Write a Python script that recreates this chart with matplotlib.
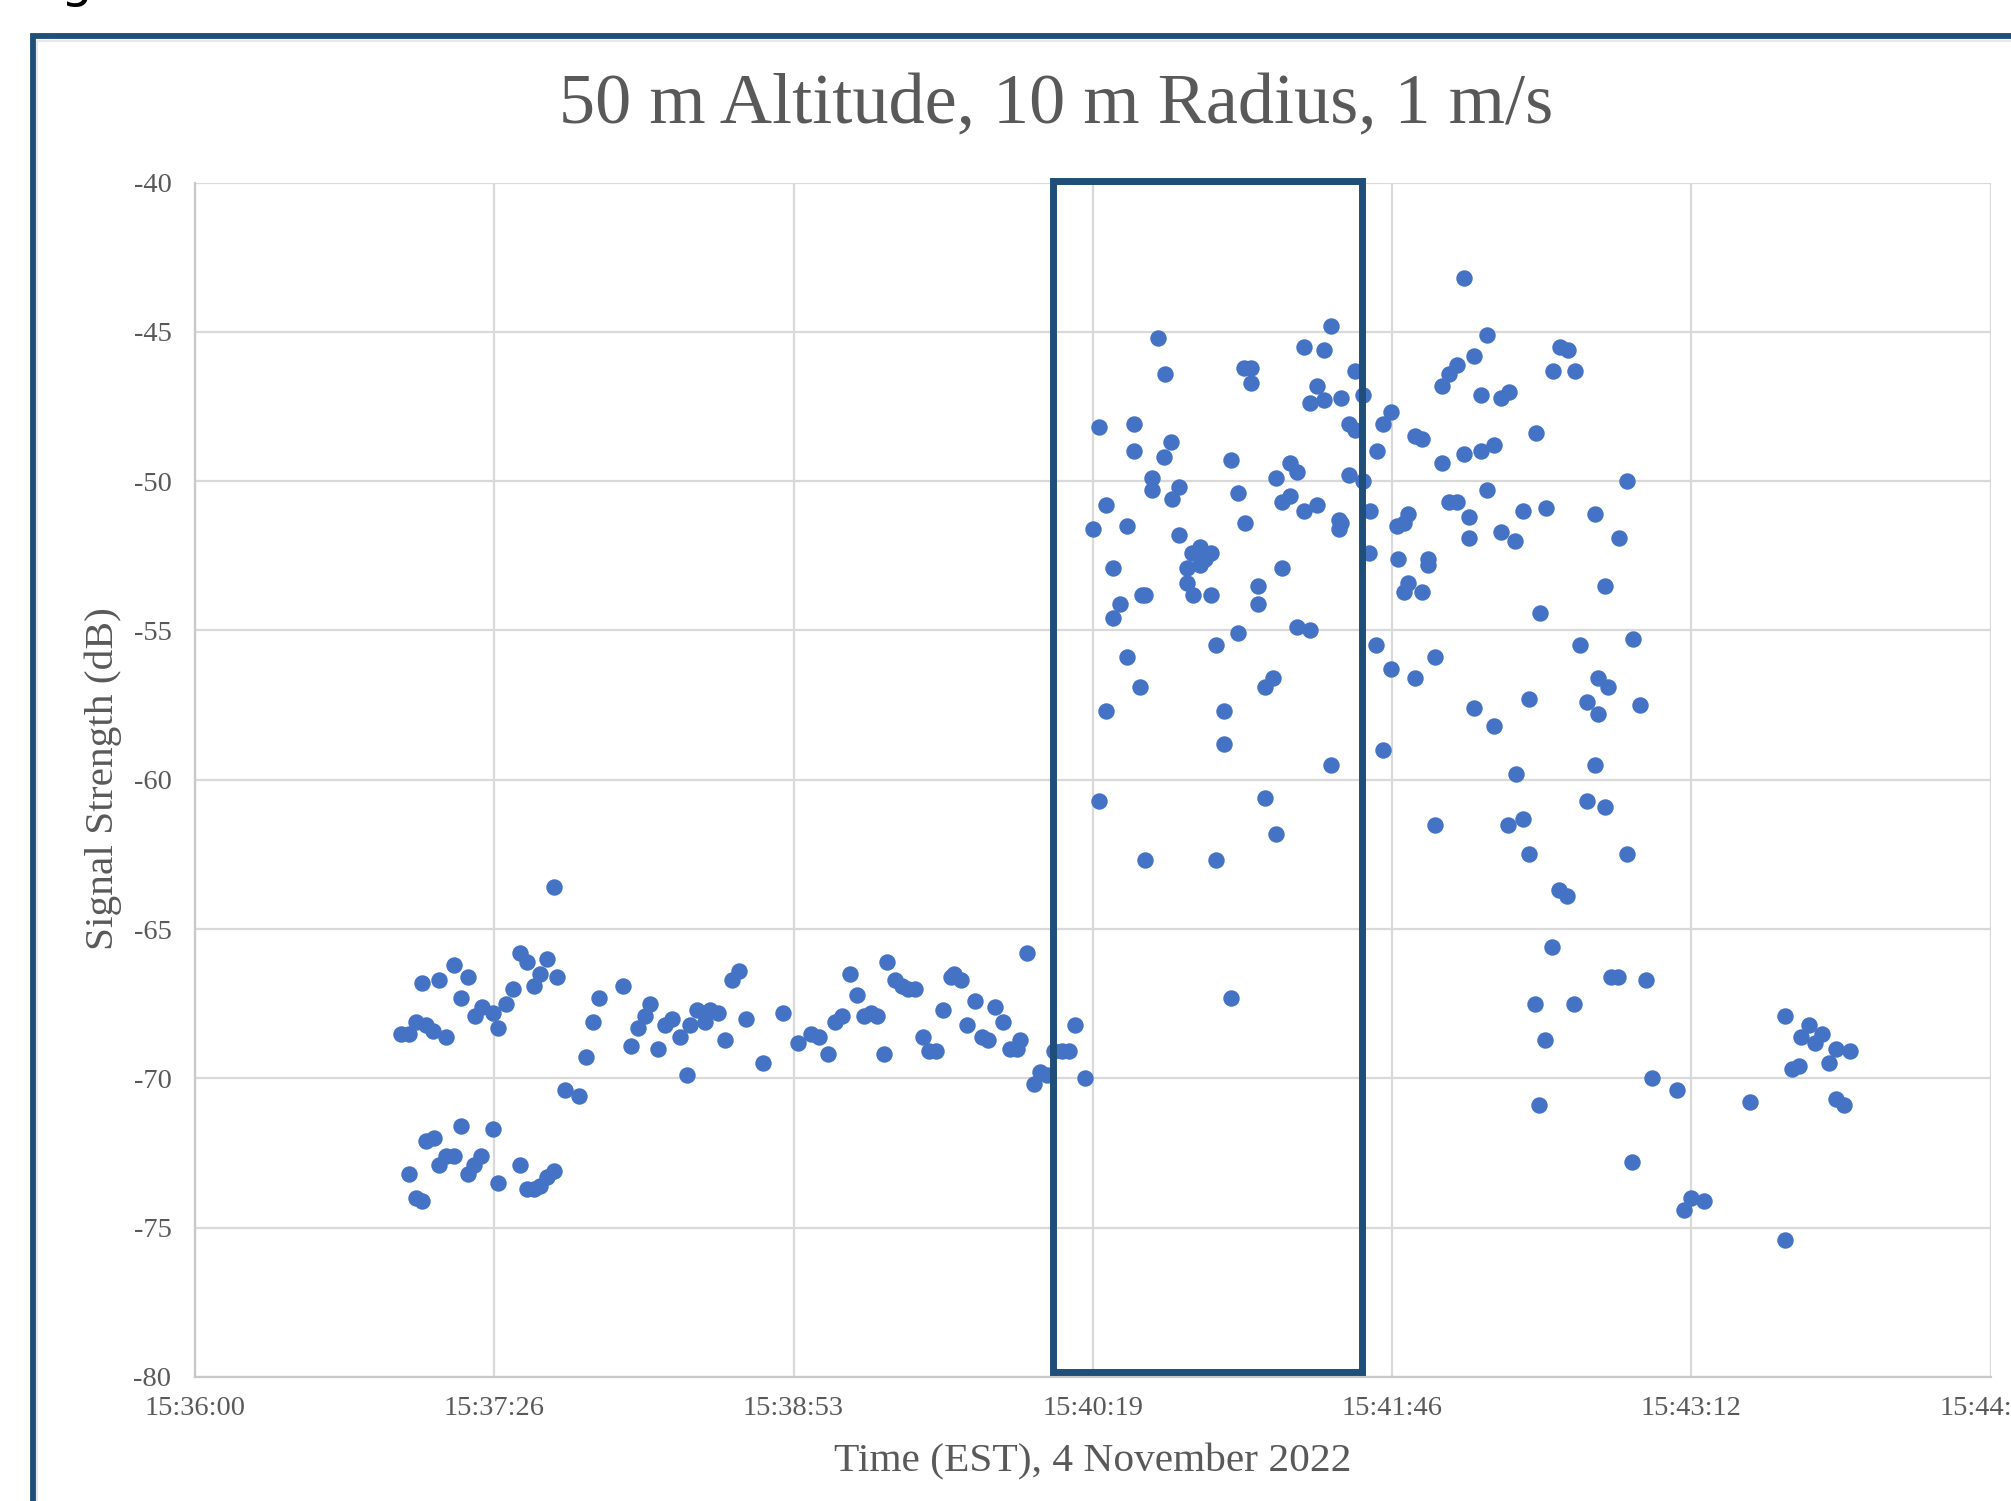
import numpy as np
import matplotlib.pyplot as plt
from matplotlib.patches import Rectangle
from matplotlib.lines import Line2D
from matplotlib.ticker import FuncFormatter, MultipleLocator

plt.rcParams['font.family'] = ['Liberation Serif', 'DejaVu Serif']
plt.rcParams['axes.unicode_minus'] = False

START_S = 15 * 3600 + 36 * 60  # 15:36:00, x axis starts here

# seconds after 15:36:00 / signal strength (dB)
# upper band before the circle
t_hover = [59.5, 61.8, 63.9, 65.4, 66.6, 68.7, 70.5, 72.4, 74.8, 76.7, 78.9, 80.8, 82.8, 86.0,
           87.6, 89.8, 91.7, 93.8, 95.8, 97.9, 99.6, 101.7, 103.7, 104.5, 106.7, 110.8, 112.9,
           115.0, 116.5, 123.7, 125.9, 127.9, 130.0, 131.5, 133.6, 135.7, 137.8, 139.9, 142.0,
           142.9, 145.0, 147.2, 148.6, 151.1, 152.9, 155.0, 157.0, 159.0, 164.0, 169.8, 174.0,
           177.8, 180.1, 182.8, 184.8, 186.9, 189.0, 191.1, 193.2, 195.1, 197.0, 198.9, 199.8,
           202.2, 204.1, 206.0, 208.0, 210.2, 211.9, 213.9, 216.1, 218.3, 219.1, 221.2, 222.9,
           225.3, 227.1, 228.9, 231.1, 233.3, 235.2, 237.2, 238.2, 240.2, 242.3, 244.1, 245.9,
           248.0, 250.2, 252.2, 254.2, 257.1]
db_hover = [-68.5, -68.5, -68.1, -66.8, -68.2, -68.4, -66.7, -68.6, -66.2, -67.3, -66.6, -67.9,
            -67.6, -67.8, -68.3, -67.5, -67.0, -65.8, -66.1, -66.9, -66.5, -66.0, -63.6, -66.6,
            -70.4, -70.6, -69.3, -68.1, -67.3, -66.9, -68.9, -68.3, -67.9, -67.5, -69.0, -68.2,
            -68.0, -68.6, -69.9, -68.2, -67.7, -68.1, -67.7, -67.8, -68.7, -66.7, -66.4, -68.0,
            -69.5, -67.8, -68.8, -68.5, -68.6, -69.2, -68.1, -67.9, -66.5, -67.2, -67.9, -67.8,
            -67.9, -69.2, -66.1, -66.7, -66.9, -67.0, -67.0, -68.6, -69.1, -69.1, -67.7, -66.6,
            -66.5, -66.7, -68.2, -67.4, -68.6, -68.7, -67.6, -68.1, -69.0, -69.0, -68.7, -65.8,
            -70.2, -69.8, -69.9, -69.1, -69.1, -69.1, -68.2, -70.0]

# lower band at the start
t_low = [61.7, 63.9, 65.4, 66.7, 68.9, 70.5, 72.4, 74.8, 76.7, 78.8, 80.6, 82.6, 85.9, 87.6,
         93.8, 95.8, 97.9, 99.6, 101.7, 103.7]
db_low = [-73.2, -74.0, -74.1, -72.1, -72.0, -72.9, -72.6, -72.6, -71.6, -73.2, -72.9, -72.6,
          -71.7, -73.5, -72.9, -73.7, -73.7, -73.6, -73.3, -73.1]

# circle at 50 m
t_circle = [259.2, 260.9, 260.9, 262.9, 262.9, 265.0, 265.0, 267.1, 269.2, 269.2, 271.2, 271.2,
            272.9, 273.3, 274.2, 274.3, 276.2, 276.2, 277.9, 279.9, 280.1, 281.9, 282.1, 284.1,
            284.1, 286.3, 286.3, 287.9, 288.2, 290.1, 290.1, 291.7, 293.3, 293.3, 294.8, 294.8,
            297.0, 297.0, 299.0, 299.0, 301.2, 301.2, 302.8, 303.2, 305.0, 305.0, 307.0, 307.0,
            309.0, 309.0, 311.1, 312.0, 312.0, 313.9, 313.9, 316.1, 316.1, 318.1, 318.2, 320.3,
            320.3, 321.8, 321.9, 324.0, 324.0, 326.1, 326.1, 328.0, 328.1, 330.3, 330.3, 330.9,
            330.9, 333.2, 333.2, 334.9, 335.0, 337.3, 337.3, 339.1, 339.3]
db_circle = [-51.6, -48.2, -60.7, -50.8, -57.7, -52.9, -54.6, -54.1, -51.5, -55.9, -48.1, -49.0,
             -56.9, -53.8, -62.7, -53.8, -49.9, -50.3, -45.2, -49.2, -46.4, -48.7, -50.6, -50.2,
             -51.8, -52.9, -53.4, -52.4, -53.8, -52.2, -52.8, -52.6, -52.4, -53.8, -55.5, -62.7,
             -57.7, -58.8, -49.3, -67.3, -50.4, -55.1, -46.2, -51.4, -46.2, -46.7, -53.5, -54.1,
             -56.9, -60.6, -56.6, -49.9, -61.8, -50.7, -52.9, -49.4, -50.5, -54.9, -49.7, -51.0,
             -45.5, -47.4, -55.0, -50.8, -46.8, -45.6, -47.3, -44.8, -59.5, -51.3, -51.6, -51.4,
             -47.2, -48.1, -49.8, -48.3, -46.3, -47.1, -50.0, -52.4, -51.0]

# after the circle
t_after = [341.1, 341.2, 343.0, 343.0, 345.2, 345.2, 347.1, 347.3, 349.2, 349.2, 350.1, 350.1,
           352.2, 352.2, 354.2, 354.2, 356.0, 356.0, 358.0, 358.0, 360.0, 360.0, 362.1, 362.1,
           364.3, 364.3, 366.4, 366.4, 367.9, 367.9, 369.2, 369.2, 371.3, 371.3, 373.0, 373.0,
           375.0, 375.0, 377.1, 377.1, 379.2, 379.3, 381.2, 381.3, 383.4, 383.4, 385.1, 385.1,
           386.9, 387.2, 388.1, 388.4, 389.8, 390.0, 391.9, 392.2, 393.9, 394.1, 396.1, 396.3,
           398.1, 398.4, 399.9, 402.0, 402.0, 404.1, 404.1, 405.2, 405.2, 407.0, 407.0, 408.1,
           408.7, 410.9, 411.2, 413.4, 413.4, 415.0, 415.3, 417.1, 418.9, 420.8, 428.0, 429.9,
           432.0, 435.8]
db_after = [-55.5, -49.0, -48.1, -59.0, -47.7, -56.3, -51.5, -52.6, -51.4, -53.7, -51.1, -53.4,
            -48.5, -56.6, -48.6, -53.7, -52.6, -52.8, -55.9, -61.5, -49.4, -46.8, -46.4, -50.7,
            -46.1, -50.7, -43.2, -49.1, -51.2, -51.9, -45.8, -57.6, -47.1, -49.0, -45.1, -50.3,
            -48.8, -58.2, -47.2, -51.7, -61.5, -47.0, -52.0, -59.8, -51.0, -61.3, -57.3, -62.5,
            -67.5, -48.4, -70.9, -54.4, -68.7, -50.9, -65.6, -46.3, -63.7, -45.5, -63.9, -45.6,
            -67.5, -46.3, -55.5, -57.4, -60.7, -51.1, -59.5, -56.6, -57.8, -53.5, -60.9, -56.9,
            -66.6, -66.6, -51.9, -50.0, -62.5, -72.8, -55.3, -57.5, -66.7, -70.0, -70.4, -74.4,
            -74.0, -74.1]

# last group on the way down
t_end = [449.1, 459.0, 459.0, 461.1, 463.0, 463.8, 466.1, 467.6, 469.7, 471.9, 473.8, 473.8,
         476.1, 477.7]
db_end = [-70.8, -67.9, -75.4, -69.7, -69.6, -68.6, -68.2, -68.8, -68.5, -69.5, -69.0, -70.7,
          -70.9, -69.1]

# highlighted window (seconds after 15:36:00)
box_t = (247.7, 336.8)

t_all = np.array(t_hover + t_low + t_circle + t_after + t_end)
db_all = np.array(db_hover + db_low + db_circle + db_after + db_end)
x_days = (START_S + t_all) / 86400.0

GRAY = '#595959'
NAVY = '#1F4E79'

fig = plt.figure(figsize=(20.11, 15.01), dpi=100)
ax = fig.add_axes([195 / 2011, 124 / 1501, 1795.5 / 2011, 1194.5 / 1501])

ax.scatter(x_days, db_all, s=140, color='#4472C4', linewidths=0, zorder=3)

x0 = START_S / 86400.0
ax.set_xlim(x0, x0 + 0.006)
ax.set_ylim(-80, -40)
ax.xaxis.set_major_locator(MultipleLocator(0.001))
ax.yaxis.set_major_locator(MultipleLocator(5))


def hms(x, pos):
    s = int(round(x * 86400))
    return f"{s // 3600}:{s % 3600 // 60:02d}:{s % 60:02d}"


ax.xaxis.set_major_formatter(FuncFormatter(hms))
ax.yaxis.set_major_formatter(FuncFormatter(lambda v, p: f"{v:.0f}"))

ax.grid(True, color='#D9D9D9', linewidth=1.6, zorder=0)
ax.set_axisbelow(True)
for side in ['top', 'right']:
    ax.spines[side].set_visible(False)
for side in ['left', 'bottom']:
    ax.spines[side].set_color('#C8C8C8')
    ax.spines[side].set_linewidth(1.6)
ax.tick_params(length=0, labelsize=20.5, labelcolor=GRAY)
ax.tick_params(axis='y', pad=17)
ax.tick_params(axis='x', pad=14)

ax.set_xlabel('Time (EST), 4 November 2022', fontsize=29.8, color=GRAY, va='center')
ax.xaxis.set_label_coords(0.5, -0.0712)
ax.set_ylabel('Signal Strength (dB)', fontsize=29.8, color=GRAY, va='center')
ax.yaxis.set_label_coords(-0.0512, 0.501)

# highlight box
bx0 = (START_S + box_t[0]) / 86400.0
bx1 = (START_S + box_t[1]) / 86400.0
ax.add_patch(Rectangle((bx0, -79.84), bx1 - bx0, 39.89, fill=False, edgecolor=NAVY,
                       linewidth=5, zorder=5, clip_on=False))

fig.text(1056 / 2011, 1 - 106 / 1501, '50 m Altitude, 10 m Radius, 1 m/s', fontsize=52,
         color=GRAY, ha='center', va='center')

# outer frame of the figure panel and the cut-off caption above it
fy = 1 - 36 / 1501
fx = 32.5 / 2011
fig.add_artist(Line2D([fx, fx, 1.0], [0.0, fy, fy], color=NAVY, linewidth=4.2,
                      solid_joinstyle='miter'))
gy = 1 - 41 / 1501
gx = 37 / 2011
fig.add_artist(Line2D([gx, gx, 1.0], [0.0, gy, gy], color='#E4E4E4', linewidth=1.2))
fig.text(60 / 2011, 1 + 3 / 1501, 'g', fontsize=36, family='DejaVu Sans', color='black',
         ha='left', va='baseline')

fig.savefig('out.png', dpi=100)
